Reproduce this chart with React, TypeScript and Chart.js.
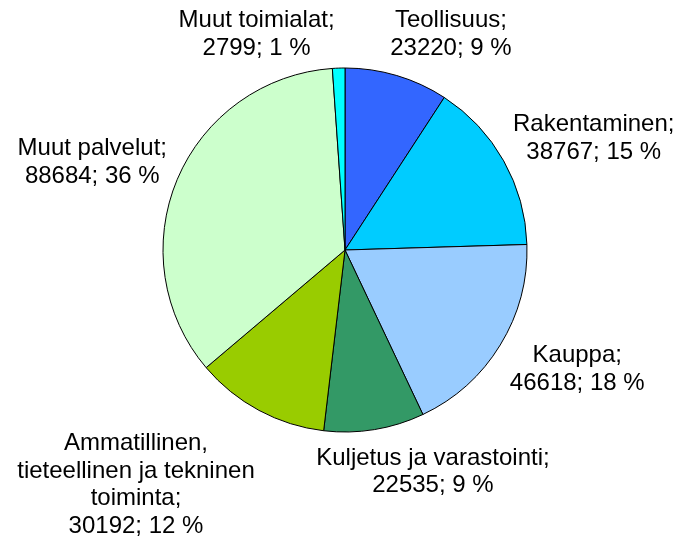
import React, { useEffect, useRef } from "react";
import { Chart, registerables } from "chart.js";

Chart.register(...registerables);

// ---- data ----
const CATEGORIES: string[] = [
  "Teollisuus",
  "Rakentaminen",
  "Kauppa",
  "Kuljetus ja varastointi",
  "Ammatillinen, tieteellinen ja tekninen toiminta",
  "Muut palvelut",
  "Muut toimialat",
];
const VALUES: number[] = [23220, 38767, 46618, 22535, 30192, 88684, 2799];
const PERCENTS: number[] = [9, 15, 18, 9, 12, 36, 1];

// ---- styles / layout ----
const COLORS: string[] = [
  "#3366FF",
  "#00CCFF",
  "#99CCFF",
  "#339966",
  "#99CC00",
  "#CCFFCC",
  "#00FFFF",
];
const LABEL_NUDGE: [number, number][] = [
  [34, -7],
  [11, -6],
  [11, 3],
  [38, 3],
  [-62, 15],
  [-7, -4],
  [-79, 2],
];
const FONT = '24px "Liberation Sans", Arial, sans-serif';
const LINE_H = 27.6;
const CAP_HALF = 8.6;
const GAP = 10;
const WRAP_W = 250;

function wrap(ctx: CanvasRenderingContext2D, text: string, maxW: number): string[] {
  const words = text.split(" ");
  const out: string[] = [];
  let cur = "";
  for (const w of words) {
    const test = cur ? cur + " " + w : w;
    if (cur && ctx.measureText(test).width > maxW) {
      out.push(cur);
      cur = w;
    } else {
      cur = test;
    }
  }
  if (cur) out.push(cur);
  return out;
}

const labelPlugin = {
  id: "outsideLabels",
  afterDatasetsDraw(chart: any) {
    const ctx: CanvasRenderingContext2D = chart.ctx;
    const meta = chart.getDatasetMeta(0);
    ctx.save();
    ctx.font = FONT;
    ctx.fillStyle = "#000000";
    ctx.textAlign = "center";
    ctx.textBaseline = "alphabetic";
    meta.data.forEach((arc: any, i: number) => {
      const p = arc.getProps(["x", "y", "startAngle", "endAngle", "outerRadius"], true);
      const mid = (p.startAngle + p.endAngle) / 2;
      const dx = Math.cos(mid);
      const dy = Math.sin(mid);
      const lines = wrap(ctx, CATEGORIES[i] + ";", WRAP_W);
      lines.push(`${VALUES[i]}; ${PERCENTS[i]} %`);
      const w = Math.max(...lines.map((l) => ctx.measureText(l).width));
      const h = lines.length * LINE_H;
      const ax = p.x + (p.outerRadius + GAP) * dx;
      const ay = p.y + (p.outerRadius + GAP) * dy;
      const cx = ax + (dx * w) / 2 + LABEL_NUDGE[i][0];
      const cy = ay + (dy * h) / 2 + LABEL_NUDGE[i][1];
      lines.forEach((ln, k) => {
        ctx.fillText(ln, cx, cy - h / 2 + (k + 0.5) * LINE_H + CAP_HALF);
      });
    });
    ctx.restore();
  },
};

export default function App() {
  const ref = useRef<HTMLCanvasElement | null>(null);

  useEffect(() => {
    document.body.style.margin = "0";
    const canvas = ref.current;
    if (!canvas) return;
    const chart = new Chart(canvas, {
      type: "pie",
      data: {
        labels: CATEGORIES,
        datasets: [
          {
            data: VALUES,
            backgroundColor: COLORS,
            borderColor: "#000000",
            borderWidth: 1,
          },
        ],
      },
      options: {
        responsive: false,
        animation: false,
        layout: {
          padding: { left: 162.5, right: 150.5, top: 67.5, bottom: 104.5 },
        },
        plugins: {
          legend: { display: false },
          tooltip: { enabled: false },
        },
      },
      plugins: [labelPlugin],
    });
    return () => chart.destroy();
  }, []);

  return (
    <div style={{ width: 678, height: 537, background: "#ffffff" }}>
      <canvas ref={ref} width={678} height={537} />
    </div>
  );
}
